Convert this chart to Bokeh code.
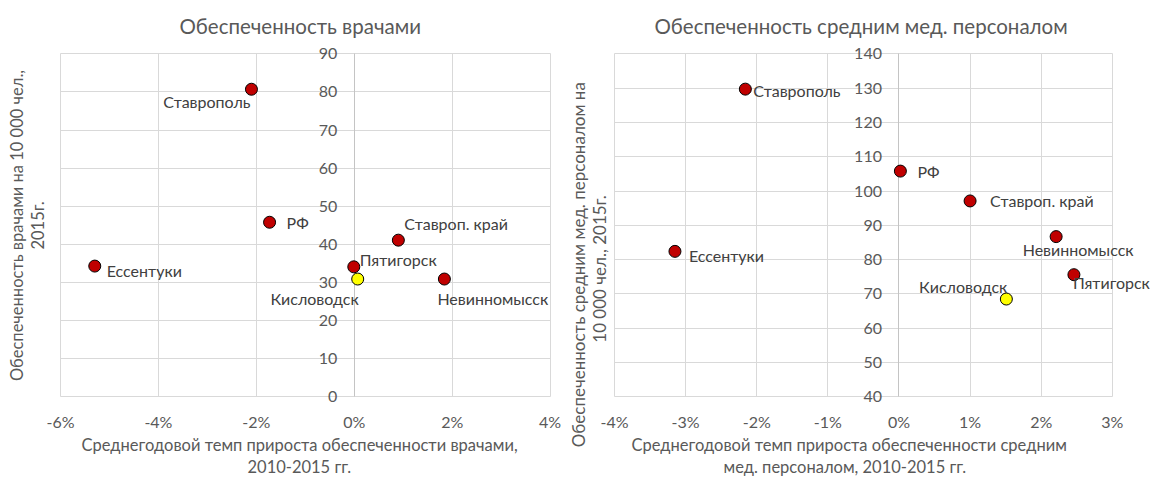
from bokeh.plotting import figure
from bokeh.layouts import row
from bokeh.models import Label, FixedTicker, PrintfTickFormatter, Range1d, Title, Grid
from bokeh.core.properties import value
from bokeh.embed import file_html
from bokeh.resources import INLINE

FONT = "Lato"
TXT = "#595959"
LBL = "#404040"
GRID = "#d9d9d9"
RED = "#C00000"
YEL = "#FFFF00"
NB = "\u00a0"

# ---------------- data: doctors ----------------
doc_names = ["Ставрополь", "РФ", "Ставроп. край", "Ессентуки", "Пятигорск", "Кисловодск", "Невинномысск"]
doc_growth = [-2.10, -1.73, 0.90, -5.30, -0.01, 0.07, 1.84]       # % per year 2010-2015
doc_level = [80.7, 45.8, 41.1, 34.3, 34.1, 30.9, 30.9]            # per 10 000, 2015
doc_x_ticks = [-6, -4, -2, 0, 2, 4]
doc_y_ticks = [0, 10, 20, 30, 40, 50, 60, 70, 80, 90]

# ---------------- data: nurses ----------------
nur_names = ["Ставрополь", "РФ", "Ставроп. край", "Невинномысск", "Ессентуки", "Пятигорск", "Кисловодск"]
nur_growth = [-2.16, 0.02, 1.00, 2.21, -3.15, 2.46, 1.51]
nur_level = [129.7, 105.8, 97.1, 86.7, 82.4, 75.6, 68.5]
nur_x_ticks = [-4, -3, -2, -1, 0, 1, 2, 3]
nur_y_ticks = [40, 50, 60, 70, 80, 90, 100, 110, 120, 130, 140]

# label placement (style): (align, x_offset px, y_offset px)
doc_lab = [("right", -1, -12), ("left", 17, 0), ("left", 6, 17), ("left", 12, -4),
           ("left", 6, 7), ("right", 1, -19), ("left", -7, -19)]
nur_lab = [("left", 8, -1), ("left", 17, 0), ("left", 20, 0), ("center", 22, -13),
           ("left", 14, -4), ("left", -1, -8), ("right", 1, 13)]

FRAME_H = 343.0   # pixels between first and last y tick
PAD_T = 6.3       # extra pixels above last tick
PAD_B = 6.7       # extra pixels below first tick


def make(width, title, title_off, title_standoff, names, xs, ys, xt, yt, x_end, x_pad,
         xlab_lines, xlab_offsets, ylabel, ylab_size, ylab_lh, ylab_standoff, labpos, bl, br):
    ypp = (yt[-1] - yt[0]) / FRAME_H
    p = figure(width=width, height=477,
               x_range=Range1d(xt[0] - x_pad, x_end),
               y_range=Range1d(yt[0] - PAD_B * ypp, yt[-1] + PAD_T * ypp),
               output_backend="svg", toolbar_location=None,
               min_border_left=bl, min_border_right=br,
               min_border_top=47, min_border_bottom=74)
    p.outline_line_color = None
    p.background_fill_color = "white"
    p.border_fill_color = "white"

    p.title.text = title
    p.title.align = "left"
    p.title.offset = title_off
    p.title.vertical_align = "middle"
    p.title.text_font = FONT
    p.title.text_font_size = "20.5px"
    p.title.text_font_style = "normal"
    p.title.text_line_height = 1.0
    p.title.text_color = TXT
    p.title.standoff = title_standoff

    # x axis: tick labels only
    p.xaxis.ticker = FixedTicker(ticks=xt)
    p.xaxis.formatter = PrintfTickFormatter(format="%d%%")
    p.xaxis.major_tick_line_color = None
    p.xaxis.minor_tick_line_color = None
    p.xaxis.major_tick_out = 0
    p.xaxis.major_tick_in = 0
    p.xaxis.minor_tick_out = 0
    p.xaxis.axis_line_color = None
    p.xaxis.major_label_text_font = FONT
    p.xaxis.major_label_text_font_size = "16px"
    p.xaxis.major_label_text_line_height = 1.0
    p.xaxis.major_label_text_color = TXT
    p.xaxis.major_label_standoff = 8

    # x title, two lines, as titles below
    for txt, off in zip(xlab_lines, xlab_offsets):
        t = Title(text=txt, align="left", offset=off, vertical_align="middle", standoff=0,
                  text_font=FONT, text_font_size="16.5px", text_font_style="normal",
                  text_line_height=1.0, text_color=TXT)
        p.add_layout(t, "below")

    # y axis: only title, tick labels drawn at x=0
    p.yaxis.ticker = FixedTicker(ticks=[])
    p.yaxis.axis_line_color = None
    p.yaxis.major_tick_line_color = None
    p.yaxis.minor_tick_line_color = None
    p.yaxis.major_tick_out = 0
    p.yaxis.major_tick_in = 0
    p.yaxis.minor_tick_out = 0
    p.yaxis.major_label_standoff = 0
    p.yaxis.axis_label = ylabel
    p.yaxis.axis_label_text_font = FONT
    p.yaxis.axis_label_text_font_size = ylab_size
    p.yaxis.axis_label_text_line_height = ylab_lh
    p.yaxis.axis_label_text_font_style = "normal"
    p.yaxis.axis_label_text_color = TXT
    p.yaxis.axis_label_standoff = ylab_standoff

    p.xgrid.ticker = FixedTicker(ticks=xt)
    p.ygrid.ticker = FixedTicker(ticks=yt)
    p.xgrid.grid_line_color = GRID
    p.ygrid.grid_line_color = GRID
    p.ygrid.cross_bounds = (xt[0], xt[-1])
    p.xgrid.cross_bounds = (yt[0], yt[-1])

    zero = Grid(dimension=0, ticker=FixedTicker(ticks=[0]), cross_bounds=(yt[0], yt[-1]),
                grid_line_color="#c4c4c4")
    p.add_layout(zero)

    p.text(x=[0] * len(yt), y=yt, text=[str(v) for v in yt],
           x_offset=-17, text_align="right", text_baseline="middle",
           text_font=value(FONT), text_font_size="16px", text_color=TXT)

    colors = [YEL if n == "Кисловодск" else RED for n in names]
    p.scatter(x=xs, y=ys, size=12, fill_color=colors, line_color="#000000", line_width=1)

    for n, x, y, (al, dx, dy) in zip(names, xs, ys, labpos):
        p.add_layout(Label(x=x, y=y, text=n, x_offset=dx, y_offset=dy,
                           text_align=al, text_baseline="middle",
                           text_font=FONT, text_font_size="16px", text_color=LBL))
    return p


left = make(564, "Обеспеченность врачами", 120, 17.5,
            doc_names, doc_growth, doc_level, doc_x_ticks, doc_y_ticks,
            4.15, 0.02,
            ["Среднегодовой темп прироста  обеспеченности врачами,", "2010-2015 гг."], [22, 188],
            "Обеспеченность врачами на 10 000 чел.,\n2015г.", "16.5px", 1.05, 12, doc_lab, 59, 7)
right = make(588, "Обеспеченность средним мед. персоналом", 41, 17.5,
             nur_names, nur_growth, nur_level, nur_x_ticks, nur_y_ticks,
             3.551, 0.014,
             ["Среднегодовой темп прироста  обеспеченности средним", "мед. персоналом, 2010-2015 гг."], [18, 110],
             "Обеспеченность средним мед. персоналом на" + NB * 18 + "\n10 000 чел., 2015г." + NB * 20,
             "17px", 1.0, 4, nur_lab, 48, 1)

layout = row(left, right)
open("out.html", "w").write(file_html(layout, INLINE))
